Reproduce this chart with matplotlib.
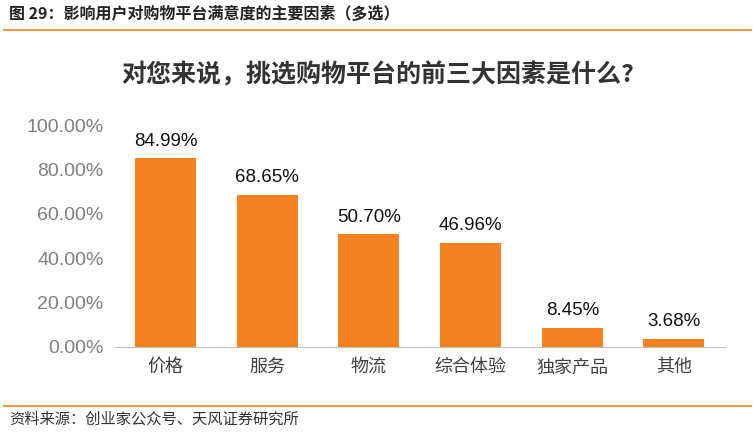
import matplotlib.pyplot as plt
from matplotlib.ticker import FuncFormatter

plt.rcParams['font.family'] = ['Noto Sans CJK SC', 'DejaVu Sans']

categories = ['价格', '服务', '物流', '综合体验', '独家产品', '其他']
values = [84.99, 68.65, 50.70, 46.96, 8.45, 3.68]

orange = '#F58220'
num_font = ['Liberation Sans', 'DejaVu Sans']

fig = plt.figure(figsize=(7.55, 4.33), dpi=100)
ax = fig.add_axes([0.152, 0.199, 0.808, 0.512])

bars = ax.bar(range(len(categories)), values, width=0.6, color=orange)
for i, v in enumerate(values):
    ax.text(i, v + 4, f'{v:.2f}%', ha='center', va='bottom', fontsize=13.5,
            color='#111111', family=num_font)

ax.set_ylim(0, 100)
ax.set_xlim(-0.5, len(categories) - 0.5)
ax.set_yticks(range(0, 101, 20))
ax.yaxis.set_major_formatter(FuncFormatter(lambda y, _: f'{y:.2f}%'))
ax.set_xticks(range(len(categories)))
ax.set_xticklabels(categories)
for lbl in ax.get_yticklabels():
    lbl.set_family(num_font)
ax.tick_params(axis='y', labelsize=14, colors='#7f7f7f', length=0, pad=8)
ax.tick_params(axis='x', labelsize=13, colors='#404040', length=0, pad=8)
for s in ['top', 'right', 'left']:
    ax.spines[s].set_visible(False)
ax.spines['bottom'].set_color('#bfbfbf')

fig.text(0.5, 1 - 75 / 433, '对您来说，挑选购物平台的前三大因素是什么?', ha='center', va='center',
         fontsize=18, fontweight='bold', color='#333333')
fig.text(0.012, 1 - 14 / 433, '图 29：影响用户对购物平台满意度的主要因素（多选）', ha='left', va='center',
         fontsize=11.5, fontweight='bold', color='#222222')
fig.add_artist(plt.Line2D([0.005, 0.995], [1 - 30 / 433] * 2, color=orange, lw=1.2))
fig.add_artist(plt.Line2D([0.005, 0.995], [1 - 406 / 433] * 2, color=orange, lw=1.2))
fig.text(0.012, 1 - 419 / 433, '资料来源：创业家公众号、天风证券研究所', ha='left', va='center',
         fontsize=11, color='#333333')

fig.savefig('out.png', dpi=100)
